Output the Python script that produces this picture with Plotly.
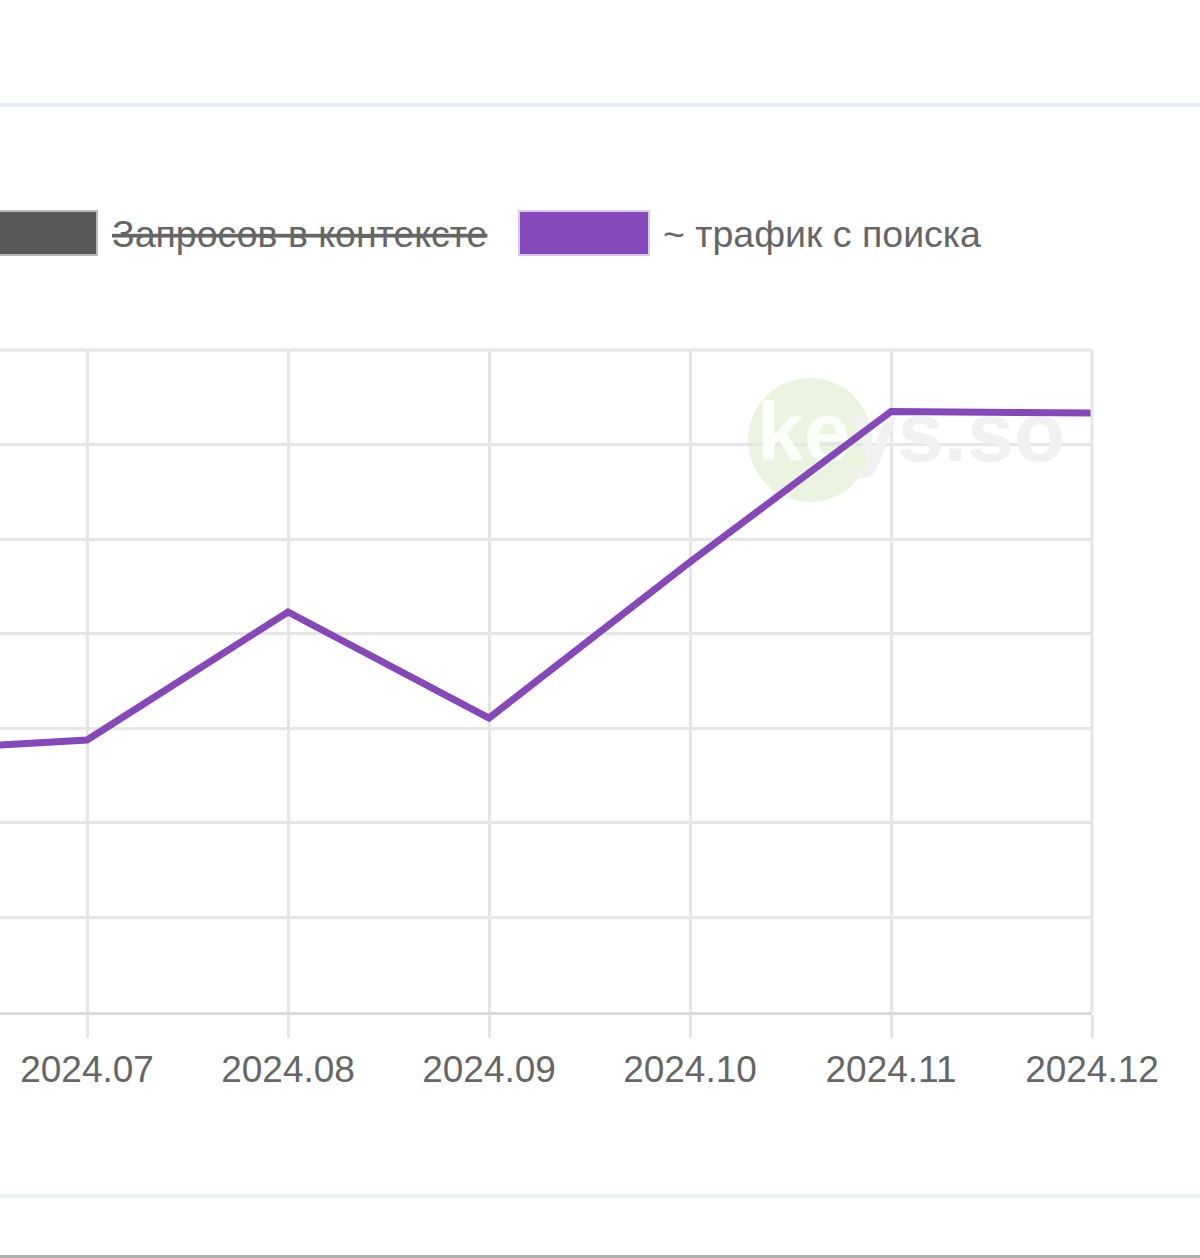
import plotly.graph_objects as go

months = ["2024.06", "2024.07", "2024.08", "2024.09", "2024.10", "2024.11", "2024.12"]
traffic = [2755, 2876, 4230, 3109, 4758, 6350, 6334]
legend_labels = ["Запросов в контексте", "~ трафик с поиска"]
y_ticks = [0, 1000, 2000, 3000, 4000, 5000, 6000, 7000]

W, H = 1200, 1258
L, R, T, B = 0, 1092, 350, 1012  # plot area in px
PW, PH = R - L, B - T

def px(x):
    return (x - L) / PW

def py(y):
    return (B - y) / PH

idx = list(range(len(months)))
fig = go.Figure()

# watermark text (behind the line)
fig.add_trace(go.Scatter(
    x=[5.1], y=[6050], mode="text",
    text=["<b><span style='color:#fbfdf8'>ke</span>ys.so</b>"],
    textfont=dict(size=84, color="#f1f1f1", family="Arial"),
    textposition="middle center", hoverinfo="skip", showlegend=False))

fig.add_trace(go.Scatter(
    x=idx, y=traffic, mode="lines",
    line=dict(color="#8548ba", width=7),
    name=legend_labels[1], showlegend=False))

shapes = []
# watermark circle
shapes.append(dict(type="circle", xref="paper", yref="paper", layer="below",
                   x0=px(748), x1=px(872), y0=py(502), y1=py(378),
                   fillcolor="rgba(150,200,90,0.2)", line=dict(width=0)))
# horizontal separator lines
for yy, col, w in [(105, "#e6eef8", 4), (1196, "#e9f0f8", 4), (1256.5, "#b0b0b0", 3)]:
    shapes.append(dict(type="line", xref="paper", yref="paper",
                       x0=px(0), x1=px(W), y0=py(yy), y1=py(yy),
                       line=dict(color=col, width=w)))
# top & right borders
shapes.append(dict(type="line", xref="paper", yref="paper", x0=0, x1=1, y0=1, y1=1,
                   line=dict(color="#e6e6e6", width=3)))
shapes.append(dict(type="line", xref="paper", yref="paper", x0=1, x1=1, y0=0, y1=1,
                   line=dict(color="#e6e6e6", width=3)))
# legend boxes
shapes.append(dict(type="rect", xref="paper", yref="paper",
                   x0=px(-30), x1=px(97), y0=py(255), y1=py(211),
                   fillcolor="#58595b", line=dict(color="#b8b8b8", width=2)))
shapes.append(dict(type="rect", xref="paper", yref="paper",
                   x0=px(519), x1=px(649), y0=py(255), y1=py(211),
                   fillcolor="#8549ba", line=dict(color="#d9c8ee", width=2)))

annotations = [
    dict(xref="paper", yref="paper", x=px(110), y=py(234), xanchor="left", yanchor="middle",
         text="<s>" + legend_labels[0] + "</s>", showarrow=False,
         font=dict(size=37.5, color="#666666", family="Liberation Sans, Arial")),
    dict(xref="paper", yref="paper", x=px(661), y=py(234), xanchor="left", yanchor="middle",
         text=legend_labels[1], showarrow=False,
         font=dict(size=37.5, color="#666666", family="Liberation Sans, Arial")),
]

fig.update_layout(
    width=W, height=H,
    margin=dict(l=L, r=W - R, t=T, b=H - B, pad=0),
    paper_bgcolor="white", plot_bgcolor="white",
    showlegend=False,
    shapes=shapes, annotations=annotations,
    xaxis=dict(range=[0.567, 6], tickmode="array", tickvals=idx, ticktext=months,
               showgrid=True, gridcolor="#e6e6e6", gridwidth=3,
               ticks="outside", ticklen=23, tickwidth=3, tickcolor="#e6e6e6",
               showline=True, linecolor="#dadada", linewidth=3,
               zeroline=False, fixedrange=True,
               tickfont=dict(size=37, color="#666666", family="Liberation Sans, Arial")),
    yaxis=dict(range=[0, 7000], tickmode="array", tickvals=y_ticks,
               showgrid=True, gridcolor="#e6e6e6", gridwidth=3,
               showticklabels=False, zeroline=False, showline=False, ticks="",
               fixedrange=True),
)

fig.write_html("out.html", config={"displayModeBar": False},
               post_script="document.body.style.margin='0';document.body.style.overflow='hidden';")
